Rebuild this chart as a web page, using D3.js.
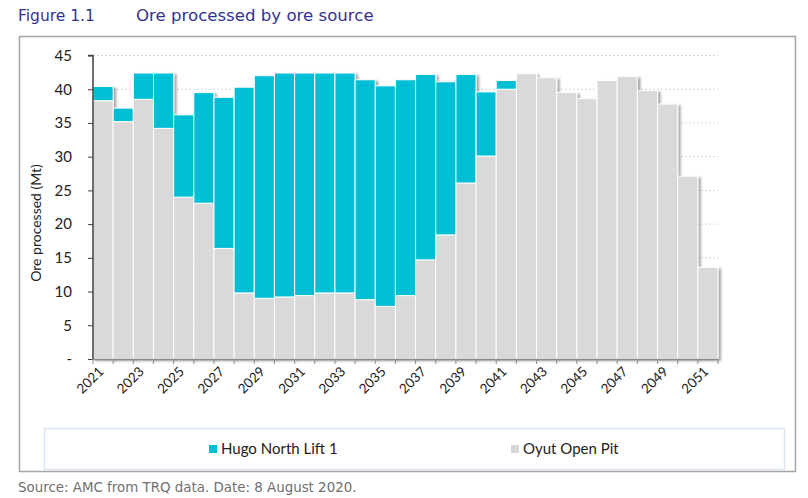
<!DOCTYPE html>
<html><head><meta charset="utf-8">
<script src="https://cdn.jsdelivr.net/npm/d3@7"></script>
<style>
html,body{margin:0;padding:0;background:#fff;}
svg{display:block;}
</style></head>
<body>
<svg id="chart" width="808" height="498"></svg>
<script>
const years = ["2021","2022","2023","2024","2025","2026","2027","2028","2029","2030","2031","2032","2033","2034","2035","2036","2037","2038","2039","2040","2041","2042","2043","2044","2045","2046","2047","2048","2049","2050","2051"];
const oyutOpenPit = [38.3,35.2,38.5,34.2,24.0,23.1,16.4,9.8,9.0,9.2,9.4,9.8,9.8,8.8,7.8,9.4,14.7,18.4,26.1,30.1,40.0,42.3,41.7,39.5,38.6,41.3,41.9,39.8,37.8,27.1,13.6];
const hugoNorthLift1 = [2.1,2.0,3.9,8.2,12.2,16.4,22.4,30.5,33.0,33.2,33.0,32.6,32.6,32.6,32.7,32.0,27.5,22.7,16.1,9.5,1.3,0,0,0,0,0,0,0,0,0,0];
const seriesNames = ["Oyut Open Pit","Hugo North Lift 1"];
const yTicks = [0,5,10,15,20,25,30,35,40,45];
const yTickLabels = ["-","5","10","15","20","25","30","35","40","45"];
const xLabelYears = years.filter((d,i)=>i%2===0);

(function(){
const colors = {"Hugo North Lift 1":"#00bfd5","Oyut Open Pit":"#d9d9d9"};

const svg = d3.select("#chart");
const defs = svg.append("defs");
const f = defs.append("filter").attr("id","sh").attr("x","-20%").attr("y","-20%").attr("width","150%").attr("height","150%");
f.append("feDropShadow").attr("dx",2.5).attr("dy",1.5).attr("stdDeviation",1.3).attr("flood-color","#000").attr("flood-opacity",0.35);

// title
const title = svg.append("g").attr("font-family","'DejaVu Sans', Verdana, sans-serif").attr("fill","#33338f");
title.append("text").attr("x",18).attr("y",21).attr("font-size",15.5).text("Figure 1.1");
title.append("text").attr("x",136).attr("y",21).attr("font-size",16.6).text("Ore processed by ore source");

// frame
svg.append("rect").attr("x",19.5).attr("y",36.5).attr("width",776).attr("height",435)
  .attr("fill","none").attr("stroke","#a6a6a6").attr("stroke-width",1.5);

const pLeft=93, pRight=718, pTop=55.5, pBottom=359;
const x = d3.scaleBand().domain(years).range([pLeft,pRight]).padding(0);
const y = d3.scaleLinear().domain([0,45]).range([pBottom,pTop]);

// gridlines
svg.append("g").selectAll("line").data(yTicks.filter(d=>d>0)).join("line")
  .attr("x1",pLeft).attr("x2",pRight).attr("y1",d=>y(d)).attr("y2",d=>y(d))
  .attr("stroke","#c9daf0").attr("stroke-width",1).attr("stroke-dasharray","2,2");

// stacked bars
const table = years.map((yr,i)=>({year:yr,"Oyut Open Pit":oyutOpenPit[i],"Hugo North Lift 1":hugoNorthLift1[i]}));
const stacked = d3.stack().keys(seriesNames)(table);
const groups = svg.append("g").selectAll("g").data(years).join("g").attr("filter","url(#sh)");
groups.each(function(yr,i){
  const g = d3.select(this);
  stacked.forEach(layer=>{
    const d = layer[i];
    if (d[1]-d[0] <= 0) return;
    g.append("rect")
      .attr("x",x(yr)).attr("width",x.bandwidth())
      .attr("y",y(d[1])).attr("height",y(d[0])-y(d[1]))
      .attr("fill",colors[layer.key]).attr("stroke","#fff").attr("stroke-width",1);
  });
});

// y axis
const yAxis = d3.axisLeft(y).tickValues(yTicks).tickFormat((d,i)=>yTickLabels[i]).tickSize(5).tickPadding(16);
const ya = svg.append("g").attr("transform",`translate(${pLeft},0)`).call(yAxis);
ya.select(".domain").attr("stroke","#404040").attr("stroke-width",1.5).attr("d",`M-5,${pTop}H0V${pBottom}`);
ya.selectAll(".tick line").attr("stroke","#404040");
ya.selectAll(".tick text").attr("font-family","Lato, 'Open Sans', sans-serif").attr("font-size",15).attr("fill","#222");

// x axis
const xAxis = d3.axisBottom(x).tickValues([]).tickSizeOuter(0);
const xa = svg.append("g").attr("transform",`translate(0,${pBottom})`).call(xAxis);
xa.select(".domain").attr("stroke","#8c8c8c").attr("stroke-width",1.5);
const bounds = years.map(yr=>x(yr)).concat([pRight]);
xa.selectAll("line.tk").data(bounds).join("line").attr("class","tk")
  .attr("x1",d=>d).attr("x2",d=>d).attr("y1",0).attr("y2",5).attr("stroke","#8c8c8c");
xa.selectAll("text.lbl").data(xLabelYears).join("text").attr("class","lbl")
  .attr("transform",d=>`translate(${x(d)+x.bandwidth()/2-2},${10}) rotate(-45)`)
  .attr("text-anchor","end").attr("dy","0.35em")
  .attr("font-family","Lato, 'Open Sans', sans-serif").attr("font-size",13.5).attr("fill","#222")
  .text(d=>d);

// y label
svg.append("text").attr("transform",`translate(41,223) rotate(-90)`).attr("text-anchor","middle")
  .attr("font-family","Lato, 'Open Sans', sans-serif").attr("font-size",14).attr("fill","#222")
  .text("Ore processed (Mt)");

// legend
svg.append("rect").attr("x",44.5).attr("y",428.5).attr("width",740).attr("height",41)
  .attr("fill","#fff").attr("stroke","#dce6f2").attr("stroke-width",1.5);
const legendItems = [{name:"Hugo North Lift 1",x:209},{name:"Oyut Open Pit",x:511}];
const lg = svg.append("g").selectAll("g").data(legendItems).join("g").attr("transform",d=>`translate(${d.x},449)`);
lg.append("rect").attr("x",0).attr("y",-4).attr("width",8).attr("height",8).attr("fill",d=>colors[d.name]);
lg.append("text").attr("x",12).attr("y",0).attr("dy","0.35em")
  .attr("font-family","Lato, 'Open Sans', sans-serif").attr("font-size",15).attr("fill","#222").text(d=>d.name);

// source
svg.append("text").attr("x",18).attr("y",492)
  .attr("font-family","'DejaVu Sans', Verdana, sans-serif").attr("font-size",13.4).attr("fill","#707070")
  .text("Source: AMC from TRQ data. Date: 8 August 2020.");
})();
</script>
</body></html>
